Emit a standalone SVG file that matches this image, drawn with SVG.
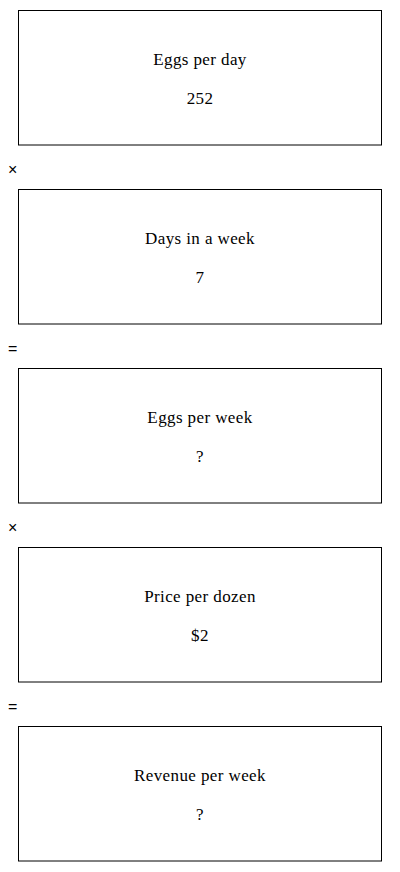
<svg xmlns="http://www.w3.org/2000/svg" width="400" height="872" viewBox="0 0 400 872">
<style>
.box{fill:#fff;stroke:#000;stroke-width:1}
.t{font-family:"Liberation Serif","DejaVu Serif",serif;font-size:17px;letter-spacing:0.4px;text-anchor:middle;fill:#000}
.op{font-family:"Liberation Sans","DejaVu Sans",sans-serif;font-size:16px;fill:#000}
</style>
<rect width="400" height="872" fill="#fff"/>
<g id="eggs-per-day">
<rect class="box" x="18.5" y="10.5" width="363" height="134.5"/>
<text class="t" x="200" y="65">Eggs per day</text>
<text class="t" x="200" y="104">252</text>
</g>
<g id="days-in-week">
<rect class="box" x="18.5" y="189.5" width="363" height="134.5"/>
<text class="t" x="200" y="244">Days in a week</text>
<text class="t" x="200" y="283">7</text>
</g>
<g id="eggs-per-week">
<rect class="box" x="18.5" y="368.5" width="363" height="134.5"/>
<text class="t" x="200" y="423">Eggs per week</text>
<text class="t" x="200" y="462">?</text>
</g>
<g id="price-per-dozen">
<rect class="box" x="18.5" y="547.5" width="363" height="134.5"/>
<text class="t" x="200" y="602">Price per dozen</text>
<text class="t" x="200" y="641">$2</text>
</g>
<g id="revenue-per-week">
<rect class="box" x="18.5" y="726.5" width="363" height="134.5"/>
<text class="t" x="200" y="781">Revenue per week</text>
<text class="t" x="200" y="820">?</text>
</g>
<g id="operators">
<text class="op" x="8" y="175">×</text>
<text class="op" x="8" y="354">=</text>
<text class="op" x="8" y="533">×</text>
<text class="op" x="8" y="712">=</text>
</g>
</svg>
